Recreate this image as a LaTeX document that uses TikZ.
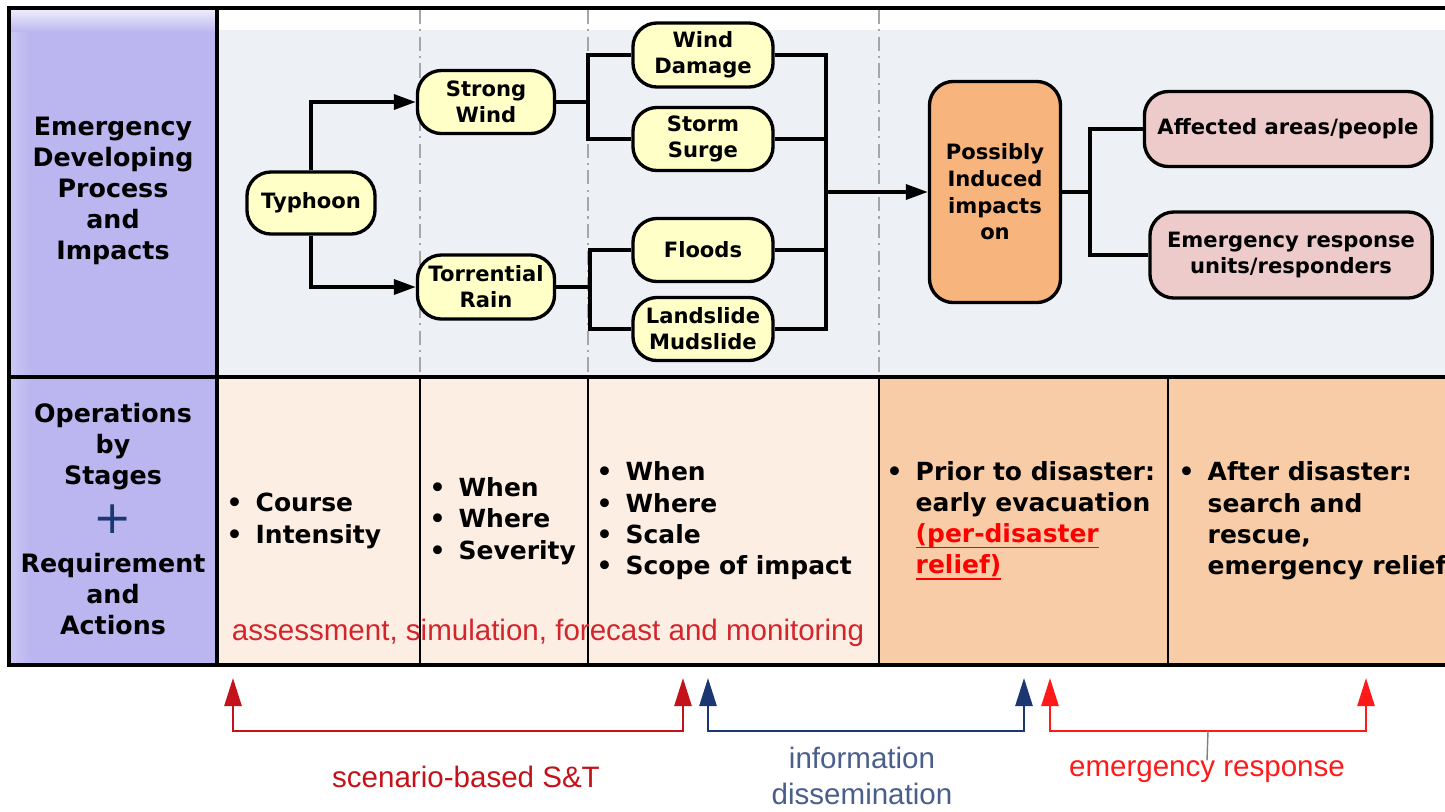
\documentclass[tikz,border=0pt]{standalone}
\usepackage{fontspec}
\setmainfont{DejaVu Sans}
\newfontfamily\arialfont{Liberation Sans}
\usepackage{xcolor}
\usepackage{tikz}
\usetikzlibrary{arrows.meta}

\definecolor{viola}{HTML}{BBB6F0}
\definecolor{grigioazz}{HTML}{EDF0F5}
\definecolor{pesca}{HTML}{FDEEE3}
\definecolor{pescascuro}{HTML}{F8CCA6}
\definecolor{giallino}{HTML}{FFFFC8}
\definecolor{arancio}{HTML}{F7B47C}
\definecolor{rosa}{HTML}{EECBCB}
\definecolor{rossotesto}{HTML}{D3252C}
\definecolor{rossoscuro}{HTML}{C4121A}
\definecolor{rossovivo}{HTML}{FF1A1A}
\definecolor{blu}{HTML}{1B3670}

\newcommand{\voce}{\makebox[2.9mm][l]{\textbullet}}
\newcommand{\rientro}{\hspace*{2.9mm}}
\newcommand{\sottolineato}[1]{\textcolor{red}{\underline{\smash{#1}}}}

\tikzset{
  evento/.style={draw, line width=0.95pt, rounded corners=2.4mm, fill=giallino, align=center, inner sep=0pt, font=\fontsize{6}{7.4}\selectfont\bfseries},
  impatto/.style={evento, fill=arancio, font=\fontsize{6}{7.6}\selectfont\bfseries},
  bersaglio/.style={evento, fill=rosa},
  linea/.style={line width=1pt},
  freccia/.style={line width=1pt, -{Triangle[length=2.2mm,width=1.5mm]}},
  titolo/.style={align=center, inner sep=0pt, font=\fontsize{7.2}{8.8}\selectfont\bfseries},
  elenco/.style={align=left, anchor=west, inner sep=0pt, font=\fontsize{7.1}{8.9}\selectfont\bfseries},
  parentesi/.style={line width=0.75pt, {Triangle[length=2.8mm,width=1.7mm]}-{Triangle[length=2.8mm,width=1.7mm]}},
  didascalia/.style={inner sep=0pt, align=center, font=\arialfont\fontsize{8.4}{10.2}\selectfont},
  cornice/.style={line width=1pt},
  separatore/.style={gray!70, line width=0.5pt, dash pattern=on 4pt off 1.5pt on 0.6pt off 1.5pt},
}

\begin{document}
\begin{tikzpicture}[x=0.01cm, y=-0.01cm]
\useasboundingbox (0,0) rectangle (1445,811);

% Sfondi
\fill[viola] (9,8) rectangle (217,665);
\shade[top color=white!80!viola, bottom color=viola] (9,8) rectangle (217,32);
\shade[left color=white!25!viola, right color=viola] (9,32) rectangle (30,665);
\fill[grigioazz] (217,8) rectangle (1445,377);
\fill[white] (217,8) rectangle (1445,30);
\fill[pesca] (217,377) rectangle (879,665);
\fill[pescascuro] (879,377) rectangle (1445,665);

% Separatori tratteggiati
\draw[separatore] (420,10) -- (420,377);
\draw[separatore] (588,10) -- (588,377);
\draw[separatore] (879,10) -- (879,377);

% Cornice
\draw[cornice] (1445,8) -- (9,8) -- (9,665) -- (1445,665);
\draw[cornice] (9,377) -- (1445,377);
\draw[cornice] (217,8) -- (217,665);
\draw[line width=0.8pt] (420,377) -- (420,665);
\draw[line width=0.8pt] (588,377) -- (588,665);
\draw[line width=0.8pt] (879,377) -- (879,665);
\draw[line width=0.8pt] (1168,377) -- (1168,665);

% Titoli a sinistra
\node[titolo] (proc) at (113,191) {Emergency\\Developing\\Process\\and\\Impacts};
\node[titolo] (ops) at (113,447) {Operations\\by\\Stages};
\node[inner sep=0pt, text=blu, font=\fontsize{13}{13}\selectfont] (piu) at (113,519) {+};
\node[titolo] (req) at (113,594) {Requirement\\and\\Actions};

% Processo
\node[evento, minimum width=12.8mm, minimum height=6.2mm] (typhoon) at (311,203) {Typhoon};
\node[evento, minimum width=13.7mm, minimum height=6.3mm] (strong) at (486,102) {Strong\\Wind};
\node[evento, minimum width=13.7mm, minimum height=6.4mm] (torrent) at (486,287) {Torrential\\Rain};
\node[evento, minimum width=14mm, minimum height=6.4mm] (winddmg) at (703,55) {Wind\\Damage};
\node[evento, minimum width=14mm, minimum height=6.3mm] (storm) at (703,139) {Storm\\Surge};
\node[evento, minimum width=14mm, minimum height=6.3mm] (floods) at (703,250) {Floods};
\node[evento, minimum width=14mm, minimum height=6.3mm] (landslide) at (703,329) {Landslide\\Mudslide};
\node[impatto, minimum width=13.1mm, minimum height=22.1mm] (possibly) at (995,192) {Possibly\\Induced\\impacts\\on};
\node[bersaglio, minimum width=28.7mm, minimum height=7.5mm] (affected) at (1288,129) {Affected areas/people};
\node[bersaglio, minimum width=28.2mm, minimum height=8.6mm] (responders) at (1291,255) {Emergency response\\units/responders};

\coordinate (j1) at (588,102);
\coordinate (j2) at (590,287);
\coordinate (j3) at (826,192);
\coordinate (j4) at (1090,192);

\draw[freccia] (typhoon.north) |- (strong.west);
\draw[freccia] (typhoon.south) |- (torrent.west);
\draw[linea] (strong.east) -- (j1);
\draw[linea] (j1) |- (winddmg.west);
\draw[linea] (j1) |- (storm.west);
\draw[linea] (torrent.east) -- (j2);
\draw[linea] (j2) |- (floods.west);
\draw[linea] (j2) |- (landslide.west);
\draw[linea] (winddmg.east) -| (j3);
\draw[linea] (storm.east) -| (j3);
\draw[linea] (floods.east) -| (j3);
\draw[linea] (landslide.east) -| (j3);
\draw[freccia] (j3) -- (possibly.west);
\draw[linea] (possibly.east) -- (j4);
\draw[linea] (j4) |- (affected.west);
\draw[linea] (j4) |- (responders.west);

% Operazioni per fasi
\node[elenco] (corso) at (226,521) {\voce Course\\\voce Intensity};
\node[elenco] (quando) at (429,521) {\voce When\\\voce Where\\\voce Severity};
\node[elenco] (scala) at (596,521) {\voce When\\\voce Where\\\voce Scale\\\voce Scope of impact};
\node[elenco] (prima) at (886,521) {\voce Prior to disaster:\\\rientro early evacuation\\\rientro\sottolineato{(per-disaster}\\\rientro\sottolineato{relief)}};
\node[elenco] (dopo) at (1178,521) {\voce After disaster:\\\rientro search and\\\rientro rescue,\\\rientro emergency relief};
\node[didascalia, text=rossotesto] (valuta) at (548,633) {assessment, simulation, forecast and monitoring};

% Parentesi in basso
\coordinate (s1) at (233,678);
\coordinate (s2) at (683,678);
\coordinate (i1) at (708,678);
\coordinate (i2) at (1024,678);
\coordinate (r1) at (1050,678);
\coordinate (r2) at (1366,678);
\coordinate (rm) at (1208,731);

\draw[parentesi, rossoscuro] (s1) -- (233,731) -- (683,731) -- (s2);
\draw[parentesi, blu] (i1) -- (708,731) -- (1024,731) -- (i2);
\draw[parentesi, rossovivo] (r1) -- (1050,731) -- (1366,731) -- (r2);

\node[didascalia, text=rossoscuro] (scen) at (466,777) {scenario-based S\&T};
\node[didascalia, text=blu!80!white] (info) at (862,776) {information\\dissemination};
\node[didascalia, text=rossovivo] (resp) at (1207,772) {emergency response};
\draw[gray, line width=0.4pt] (rm) -- (resp.north);

\end{tikzpicture}
\end{document}
